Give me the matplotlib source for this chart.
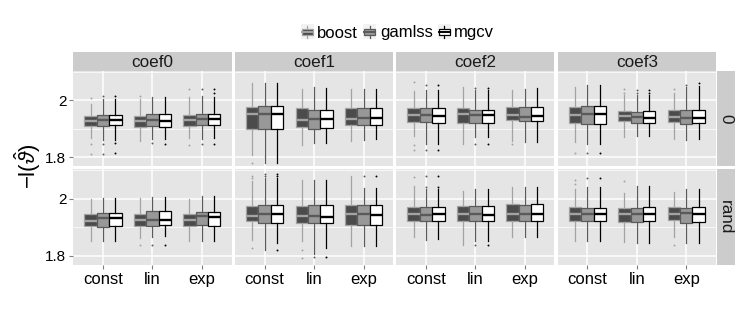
import matplotlib
matplotlib.use("Agg")
import matplotlib.pyplot as plt
from matplotlib.patches import Rectangle, Patch
from matplotlib.lines import Line2D
from matplotlib.legend_handler import HandlerBase

plt.rcParams['font.family'] = ['Liberation Sans', 'DejaVu Sans']
plt.rcParams['mathtext.fontset'] = 'custom'
plt.rcParams['mathtext.rm'] = 'Liberation Sans'
plt.rcParams['mathtext.it'] = 'Liberation Sans:italic'

coefs = ['coef0', 'coef1', 'coef2', 'coef3']
xcats = ['const', 'lin', 'exp']
methods = ['boost', 'gamlss', 'mgcv']
rows = ['0', 'rand']

# five-number summaries [whislo, q1, med, q3, whishi]
# order: coef0 const, lin, exp, coef1 const, lin, exp, ... coef3 exp
boost_0 = [
    [1.867, 1.908, 1.926, 1.944, 1.985],
    [1.855, 1.906, 1.926, 1.944, 2.006],
    [1.867, 1.908, 1.929, 1.947, 2.012],
    [1.806, 1.900, 1.950, 1.976, 2.059],
    [1.844, 1.904, 1.929, 1.971, 2.041],
    [1.856, 1.914, 1.935, 1.971, 2.041],
    [1.873, 1.923, 1.947, 1.973, 2.032],
    [1.847, 1.921, 1.950, 1.971, 2.047],
    [1.855, 1.929, 1.947, 1.976, 2.035],
    [1.853, 1.921, 1.947, 1.976, 2.047],
    [1.871, 1.926, 1.945, 1.961, 2.020],
    [1.865, 1.923, 1.941, 1.965, 2.024],
]
boost_0_out = [
    [2.007, 1.847, 1.812], [2.015], [2.039, 1.844],
    [1.780], [], [],
    [2.065, 1.841, 1.824], [], [1.847],
    [1.814], [2.039, 2.024], [2.041],
]
gamlss_0 = [
    [1.859, 1.908, 1.929, 1.947, 2.006],
    [1.865, 1.908, 1.929, 1.950, 2.012],
    [1.865, 1.912, 1.935, 1.953, 2.015],
    [1.780, 1.897, 1.951, 1.979, 2.059],
    [1.849, 1.900, 1.935, 1.967, 2.047],
    [1.859, 1.912, 1.938, 1.973, 2.038],
    [1.847, 1.923, 1.947, 1.973, 2.035],
    [1.871, 1.921, 1.947, 1.967, 2.035],
    [1.853, 1.926, 1.941, 1.976, 2.041],
    [1.847, 1.918, 1.951, 1.979, 2.053],
    [1.873, 1.921, 1.941, 1.959, 2.020],
    [1.859, 1.918, 1.938, 1.965, 2.047],
]
gamlss_0_out = [
    [2.015, 1.847, 1.812], [1.851], [2.039, 1.847],
    [], [], [],
    [2.055, 1.824], [2.043, 1.847], [],
    [1.814], [2.035, 2.024], [2.055],
]
mgcv_0 = [
    [1.859, 1.912, 1.929, 1.947, 2.006],
    [1.865, 1.906, 1.927, 1.950, 2.012],
    [1.867, 1.912, 1.935, 1.953, 2.012],
    [1.780, 1.897, 1.951, 1.979, 2.059],
    [1.851, 1.902, 1.935, 1.967, 2.044],
    [1.862, 1.914, 1.938, 1.973, 2.038],
    [1.847, 1.921, 1.945, 1.973, 2.035],
    [1.871, 1.921, 1.947, 1.967, 2.035],
    [1.853, 1.926, 1.945, 1.976, 2.043],
    [1.847, 1.918, 1.951, 1.979, 2.053],
    [1.873, 1.921, 1.938, 1.961, 2.020],
    [1.862, 1.921, 1.938, 1.967, 2.050],
]
mgcv_0_out = [
    [2.015, 1.848, 1.813], [1.847], [2.039, 2.024, 1.847],
    [], [], [],
    [2.053, 1.824], [2.043, 1.847], [],
    [1.814], [2.035, 2.024], [2.059],
]

boost_rand = [
    [1.853, 1.903, 1.923, 1.947, 1.998],
    [1.862, 1.906, 1.927, 1.947, 2.004],
    [1.853, 1.903, 1.927, 1.947, 1.998],
    [1.856, 1.921, 1.939, 1.974, 2.062],
    [1.850, 1.915, 1.939, 1.974, 2.068],
    [1.833, 1.909, 1.945, 1.980, 2.080],
    [1.865, 1.923, 1.945, 1.970, 2.044],
    [1.839, 1.921, 1.945, 1.974, 2.027],
    [1.865, 1.923, 1.945, 1.982, 2.041],
    [1.853, 1.923, 1.945, 1.970, 2.036],
    [1.848, 1.919, 1.945, 1.968, 2.021],
    [1.865, 1.927, 1.945, 1.970, 2.025],
]
boost_rand_out = [
    [], [1.836], [],
    [2.080, 2.072, 1.827], [1.821, 1.792], [],
    [2.076], [], [],
    [2.068, 2.053], [2.062], [1.839],
]
gamlss_rand = [
    [1.850, 1.901, 1.931, 1.951, 2.004],
    [1.865, 1.906, 1.927, 1.956, 2.006],
    [1.853, 1.909, 1.939, 1.954, 2.009],
    [1.821, 1.915, 1.945, 1.980, 2.072],
    [1.804, 1.915, 1.939, 1.980, 2.068],
    [1.833, 1.909, 1.945, 1.980, 2.039],
    [1.856, 1.923, 1.942, 1.970, 2.033],
    [1.850, 1.921, 1.945, 1.974, 2.033],
    [1.865, 1.921, 1.945, 1.980, 2.041],
    [1.853, 1.921, 1.945, 1.968, 2.041],
    [1.845, 1.919, 1.945, 1.968, 2.044],
    [1.845, 1.915, 1.951, 1.968, 2.033],
]
gamlss_rand_out = [
    [], [1.836], [],
    [2.088, 2.080], [1.795], [2.082],
    [2.080, 2.041], [1.839], [],
    [2.072], [], [],
]
mgcv_rand = [
    [1.853, 1.903, 1.931, 1.951, 2.004],
    [1.868, 1.909, 1.927, 1.956, 2.006],
    [1.853, 1.906, 1.935, 1.954, 2.009],
    [1.845, 1.915, 1.945, 1.980, 2.072],
    [1.827, 1.915, 1.935, 1.980, 2.068],
    [1.833, 1.909, 1.942, 1.980, 2.039],
    [1.860, 1.923, 1.945, 1.970, 2.033],
    [1.850, 1.921, 1.942, 1.974, 2.033],
    [1.865, 1.921, 1.945, 1.982, 2.041],
    [1.853, 1.921, 1.945, 1.968, 2.041],
    [1.845, 1.921, 1.945, 1.970, 2.044],
    [1.845, 1.919, 1.947, 1.970, 2.033],
]
mgcv_rand_out = [
    [], [1.836], [],
    [2.088, 2.080, 1.821], [1.795], [2.082],
    [2.080, 2.041], [1.839], [],
    [2.072], [], [],
]

summaries = {
    '0': {'boost': (boost_0, boost_0_out), 'gamlss': (gamlss_0, gamlss_0_out),
          'mgcv': (mgcv_0, mgcv_0_out)},
    'rand': {'boost': (boost_rand, boost_rand_out), 'gamlss': (gamlss_rand, gamlss_rand_out),
             'mgcv': (mgcv_rand, mgcv_rand_out)},
}

fills = {'boost': '#4B4B4B', 'gamlss': '#989898', 'mgcv': '#FFFFFF'}
edges = {'boost': '#A3A3A3', 'gamlss': '#5A5A5A', 'mgcv': '#000000'}
offsets = {'boost': -0.25, 'gamlss': 0.0, 'mgcv': 0.25}

W, H = 747, 312
fig = plt.figure(figsize=(W / 100, H / 100), dpi=100)


def rect(x0, y0, x1, y1):
    return [x0 / W, 1 - y1 / H, (x1 - x0) / W, (y1 - y0) / H]


col_left = [73.3, 235.0, 396.3, 557.7]
col_w = 158.2
row_top = [70.7, 169.3]
row_h = 95.7
strip_top_h = 19.0
strip_right = (716.7, 735.0)

panel_bg = '#E5E5E5'
strip_bg = '#CCCCCC'
ylim = (1.767, 2.104)

for ri, row in enumerate(rows):
    for ci, coef in enumerate(coefs):
        x0 = col_left[ci]
        y0 = row_top[ri]
        ax = fig.add_axes(rect(x0, y0, x0 + col_w, y0 + row_h))
        ax.set_facecolor(panel_bg)
        for s in ax.spines.values():
            s.set_visible(False)
        ax.set_xlim(0.4, 3.6)
        ax.set_ylim(*ylim)
        ax.set_xticks([1, 2, 3])
        ax.set_yticks([1.8, 2.0])
        ax.set_yticks([1.9, 2.1], minor=True)
        ax.grid(True, which='major', color='white', linewidth=1.1)
        ax.grid(True, which='minor', axis='y', color='white', linewidth=0.5)
        ax.set_axisbelow(True)
        ax.tick_params(which='major', length=3, width=0.8, color='#7F7F7F',
                       labelsize=12, pad=2)
        ax.tick_params(which='minor', length=0)
        ax.tick_params(axis='y', labelsize=11)
        if ri == 1:
            ax.set_xticklabels(xcats)
        else:
            ax.set_xticklabels([])
            ax.tick_params(axis='x', length=0)
        if ci == 0:
            ax.set_yticklabels(['1.8', '2'])
        else:
            ax.set_yticklabels([])
            ax.tick_params(axis='y', length=0)

        for m in methods:
            stats_list, outs = summaries[row][m]
            stats = []
            positions = []
            for xi, xc in enumerate(xcats):
                k = ci * 3 + xi
                lo, q1, med, q3, hi = stats_list[k]
                stats.append(dict(whislo=lo, q1=q1, med=med, q3=q3, whishi=hi,
                                  fliers=outs[k]))
                positions.append(xi + 1 + offsets[m])
            ax.bxp(stats, positions=positions, widths=0.25, patch_artist=True,
                   showcaps=False, manage_ticks=False,
                   boxprops=dict(facecolor=fills[m], edgecolor=edges[m], linewidth=0.9),
                   whiskerprops=dict(color=edges[m], linewidth=0.9),
                   medianprops=dict(color=edges[m], linewidth=1.7, solid_capstyle='butt'),
                   flierprops=dict(marker='o', markersize=1.4, markerfacecolor=edges[m],
                                   markeredgewidth=0, linestyle='none'))

        if ri == 0:
            sax = fig.add_axes(rect(x0, y0 - strip_top_h, x0 + col_w, y0))
            sax.set_facecolor(strip_bg)
            sax.set_xticks([]); sax.set_yticks([])
            for s in sax.spines.values():
                s.set_visible(False)
            sax.text(0.5, 0.45, coef, ha='center', va='center', fontsize=12.3,
                     color='#1A1A1A', transform=sax.transAxes)

    y0 = row_top[ri]
    rax = fig.add_axes(rect(strip_right[0], y0, strip_right[1], y0 + row_h))
    rax.set_facecolor(strip_bg)
    rax.set_xticks([]); rax.set_yticks([])
    for s in rax.spines.values():
        s.set_visible(False)
    rax.text(0.5, 0.5, row, ha='center', va='center', fontsize=12.3, rotation=-90,
             color='#1A1A1A', transform=rax.transAxes)

fig.text(28 / W, 1 - 166 / H, r'$-\mathrm{l}(\hat{\vartheta})$', rotation=90,
         ha='center', va='center', fontsize=16)


class BoxHandler(HandlerBase):
    def create_artists(self, legend, orig_handle, xdescent, ydescent, width, height,
                       fontsize, trans):
        fc = orig_handle.get_facecolor()
        ec = orig_handle.get_edgecolor()
        x0, y0 = -xdescent, -ydescent
        bg = Rectangle((x0, y0 - 1), width, height + 2, facecolor='#F2F2F2',
                       edgecolor='none', transform=trans)
        cx = x0 + width / 2
        b0, b1 = y0 + height * 0.25, y0 + height * 0.75
        w1 = Line2D([cx, cx], [y0, b0], color=ec, lw=0.9, transform=trans)
        w2 = Line2D([cx, cx], [b1, y0 + height], color=ec, lw=0.9, transform=trans)
        box = Rectangle((x0 + width * 0.1, b0), width * 0.8, b1 - b0, facecolor=fc,
                        edgecolor=ec, lw=0.9, transform=trans)
        med = Line2D([x0 + width * 0.1, x0 + width * 0.9], [(b0 + b1) / 2] * 2,
                     color=ec, lw=1.4, transform=trans)
        return [bg, w1, w2, box, med]


handles = [Patch(facecolor=fills[m], edgecolor=edges[m]) for m in methods]
fig.legend(handles, methods, handler_map={Patch: BoxHandler()}, ncol=3,
           loc='center', bbox_to_anchor=(397.5 / W, 1 - 33 / H), frameon=False,
           fontsize=12, handlelength=0.8, handleheight=0.75, handletextpad=0.2,
           columnspacing=0.3, borderpad=0, borderaxespad=0)

fig.savefig('out.png', dpi=100, facecolor='white')
